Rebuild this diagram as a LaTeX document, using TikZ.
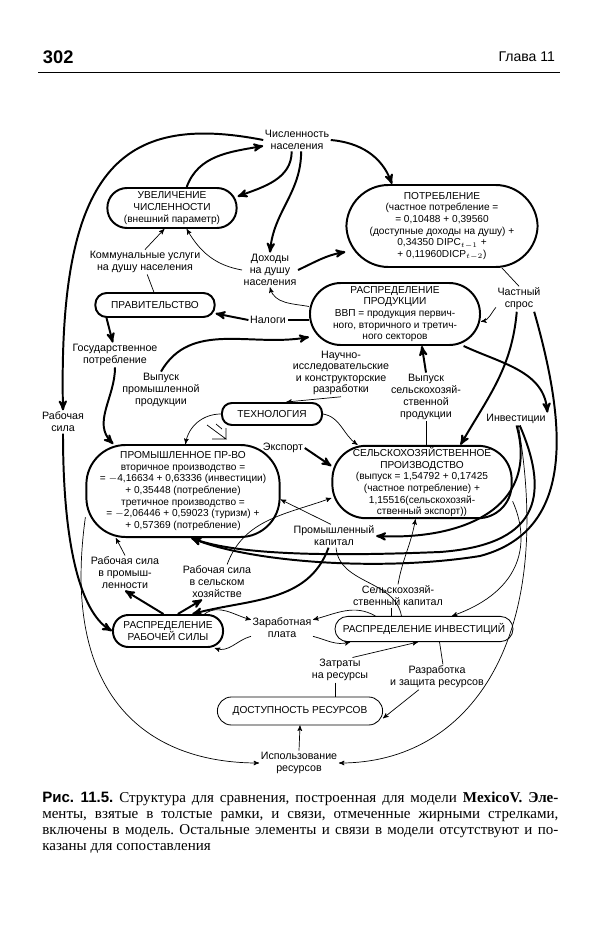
\documentclass[tikz,border=0pt]{standalone}
\usepackage{fontspec}
\setmainfont{Liberation Serif}
\setsansfont{Liberation Sans}
\usepackage{tikz}
\usetikzlibrary{arrows,positioning,calc}

\begin{document}
\frenchspacing
\begin{tikzpicture}[x=0.025cm, y=0.025cm, >=stealth', font=\sffamily\fontsize{7.6}{8.5}\selectfont,
  box/.style={draw, line width=1.4pt, rounded corners=#1, align=center, inner sep=1pt, font=\sffamily\fontsize{7.2}{8.3}\selectfont},
  box/.default=10pt,
  tbox/.style={box=#1, line width=0.6pt},
  lbl/.style={align=center, inner sep=1pt},
  model/.style={->, line width=1.4pt},
  aux/.style={->, line width=0.5pt},
  link/.style={-, line width=0.5pt}]
\useasboundingbox (0,0) rectangle (600,-932);

% header
\node[anchor=west, font=\sffamily\bfseries\fontsize{13}{14}\selectfont] (page) at (38,-57) {302};
\node[anchor=east, font=\sffamily\fontsize{10}{12}\selectfont] (chap) at (560,-57) {Глава 11};
\draw[line width=0.7pt] (page.west |- 0,-72) -- (chap.east |- 0,-72);

% nodes
\node[lbl] (pop) at (297,-140) {Численность\\населения};
\node[box=14pt, minimum width=3.23cm, minimum height=1cm] (grow) at (172,-208) {УВЕЛИЧЕНИЕ\\ЧИСЛЕННОСТИ\\(внешний параметр)};
\node[box=30pt, minimum width=4.78cm, minimum height=2.05cm] (cons) at (442,-226) {ПОТРЕБЛЕНИЕ\\(частное потребление =\\= 0,10488 + 0,39560\\(доступные доходы на душу) +\\0,34350 DIPC$_{t-1}$ +\\+ 0,11960DICP$_{t-2}$)};
\node[lbl] (comm) at (145,-262) {Коммунальные услуги\\на душу населения};
\node[lbl] (income) at (270,-270) {Доходы\\на душу\\населения};
\node[box=8pt, minimum width=2.98cm, minimum height=0.6cm] (gov) at (155,-305) {ПРАВИТЕЛЬСТВО};
\node[lbl] (taxes) at (268,-320) {Налоги};
\node[box=22pt, minimum width=4.25cm, minimum height=1.55cm] (distr) at (395,-314) {РАСПРЕДЕЛЕНИЕ\\ПРОДУКЦИИ\\ВВП = продукция первич-\\ного, вторичного и третич-\\ного секторов};
\node[lbl] (privdem) at (519,-299) {Частный\\спрос};
\node[lbl] (govcons) at (115,-355) {Государственное\\потребление};
\node[lbl, font=\sffamily\fontsize{7.6}{8.2}\selectfont] (rnd) at (341,-373) {Научно-\\исследовательские\\и конструкторские\\разработки};
\node[lbl] (indout) at (161,-390) {Выпуск\\промышленной\\продукции};
\node[lbl] (agout) at (426,-397) {Выпуск\\сельскохозяй-\\ственной\\продукции};
\node[lbl] (labour) at (63,-422) {Рабочая\\сила};
\node[box=7pt, minimum width=2.5cm, minimum height=0.55cm] (tech) at (272,-414) {ТЕХНОЛОГИЯ};
\node[lbl] (invest) at (516,-419) {Инвестиции};
\node[lbl] (export) at (283,-448) {Экспорт};
\node[box=28pt, minimum width=4.83cm, minimum height=2.3cm] (ind) at (183,-491) {ПРОМЫШЛЕННОЕ ПР-ВО\\вторичное производство =\\= $-$4,16634 + 0,63336 (инвестиции)\\+ 0,35448 (потребление)\\третичное производство =\\= $-$2,06446 + 0,59023 (туризм) +\\+ 0,57369 (потребление)};
\node[box=24pt, minimum width=4.48cm, minimum height=1.7cm] (agr) at (422,-482) {СЕЛЬСКОХОЗЯЙСТВЕННОЕ\\ПРОИЗВОДСТВО\\(выпуск = 1,54792 + 0,17425\\(частное потребление) +\\1,15516(сельскохозяй-\\ственный экспорт))};
\node[lbl] (indcap) at (334,-536) {Промышленный\\капитал};
\node[lbl] (lind) at (125,-573) {Рабочая сила\\в промыш-\\ленности};
\node[lbl] (lagr) at (217,-582) {Рабочая сила\\в сельском\\хозяйстве};
\node[lbl] (agcap) at (398,-596) {Сельскохозяй-\\ственный капитал};
\node[box=11pt, minimum width=2.75cm, minimum height=0.8cm] (ldistr) at (168,-631) {РАСПРЕДЕЛЕНИЕ\\РАБОЧЕЙ СИЛЫ};
\node[lbl] (wage) at (282,-628) {Заработная\\плата};
\node[tbox=9pt, minimum width=4.45cm, minimum height=0.63cm] (idistr) at (424,-629) {РАСПРЕДЕЛЕНИЕ ИНВЕСТИЦИЙ};
\node[lbl] (costs) at (340,-670) {Затраты\\на ресурсы};
\node[lbl] (develop) at (437,-677) {Разработка\\и защита ресурсов};
\node[tbox=10pt, minimum width=4.13cm, minimum height=0.7cm] (avail) at (300,-711) {ДОСТУПНОСТЬ РЕСУРСОВ};
\node[lbl] (use) at (299,-763) {Использование\\ресурсов};

% links in the model
\draw[model] (pop.west) .. controls (120,-112) and (58,-170) .. (labour.north);
\draw[model] (labour.south) .. controls (63,-560) and (85,-615) .. (ldistr.west);
\draw[model] (pop.-115) to[out=-90,in=20] (grow.10);
\draw[model] (grow.55) to[out=70,in=190] (pop.190);
\draw[model] (pop.-70) to[out=-90,in=85] (income.north);
\draw[model] (pop.east) to[out=-5,in=110] (cons.140);
\draw[model] (income.east) to[out=25,in=190] (cons.195);
\draw[link, line width=1.4pt] (distr.west |- taxes) -- (taxes.east);
\draw[model] (taxes.west) -- (gov.-8);
\draw[model] (gov.-165) -- (govcons.100);
\draw[model] (govcons.south) to[out=-90,in=135] (ind.146);
\draw[model] (indout.north) to[out=60,in=190] (distr.195);
\draw[model] (privdem.-100) to[out=-95,in=60] (agr.44);
\draw[model] (distr.-25) to[out=-25,in=95] (invest.north east);
\draw[model] (agout.north) -- (distr.-50);
\draw[model] (export.east) -- (agr.170);
\draw[model] (privdem.-40) .. controls (565,-420) and (578,-530) .. (480,-556) .. controls (380,-572) and (250,-562) .. (ind.-80);
\draw[model] (invest.-60) .. controls (552,-500) and (535,-545) .. (440,-552) .. controls (340,-556) and (240,-556) .. (ind.-80);
\draw[model] (invest.-85) .. controls (540,-510) and (460,-540) .. (indcap.east);
\draw[model] (ldistr.105) -- (lind.south);
\draw[model] (ldistr.60) -- (lagr.-130);
\draw[model] (indcap.-115) to[out=-110,in=15] (ldistr.35);

% other links
\draw[aux] (income.west) to[out=170,in=-60] (grow.-55);
\draw[link] (gov.95) -- (comm.-80);
\draw[aux] (comm.north) -- (grow.-110);
\draw[aux] (distr.175) to[out=170,in=-75] (income.south);
\draw[link] (privdem.north) -- (cons.-35);
\draw[aux] (privdem.-160) to[out=-130,in=10] (distr.-5);
\draw[link] (agout.south) -- (agout.south |- agr.north);
\draw[aux] (rnd.south) -- (tech.40);
\draw[aux] (tech.west) to[out=180,in=80] (ind.87);
\draw[aux] (tech.east) to[out=-10,in=145] (agr.150);
\draw[line width=0.5pt] (207,-425) -- (226,-439) -- (212,-439) (226,-439) -- (226,-428) (216,-424) -- (222,-429);
\draw[aux] (lind.north) -- (ind.-145);
\draw[aux] (lagr.60) to[out=70,in=200] (agr.190);
\draw[aux] (indcap.105) -- (ind.-5);
\draw[link] (indcap.-80) to[out=-85,in=100] (idistr.150);
\draw[link] (agcap.-120) -- (agcap.-120 |- idistr.north);
\draw[aux] (agcap.north) to[out=80,in=-100] (agr.-100);
\draw[aux] (ldistr.25) to[out=35,in=165] (wage.165);
\draw[aux] (idistr.165) to[out=150,in=15] (wage.15);
\draw[aux] (wage.-165) to[out=-165,in=-20] (ldistr.-20);
\draw[aux] (wage.-15) to[out=-15,in=195] (idistr.-170);
\draw[link] (costs.-110) -- (costs.-110 |- avail.north);
\draw[aux] (costs.45) -- (idistr.-115);
\draw[link] (idistr.-40) -- (develop.65);
\draw[aux] (develop.-145) -- (avail.-5);
\draw[aux] (use.north) -- (avail.south);
\draw[aux] (ind.195) .. controls (60,-700) and (150,-763) .. (use.west);
\draw[aux] (invest.-70) .. controls (555,-640) and (470,-763) .. (use.east);
\draw[aux] (agr.-12) .. controls (530,-540) and (525,-590) .. (idistr.25);

% caption
\node[anchor=north west, inner sep=0, text width=12.9cm, align=justify, font=\rmfamily\fontsize{10.7}{11.4}\selectfont] (caption) at (42,-792)
  {\textsf{\bfseries Рис.~11.5.} Структура для сравнения, построенная для модели \textbf{MexicoV. Эле-}\linebreak
   менты, взятые в толстые рамки, и связи, отмеченные жирными стрелками,\linebreak
   включены в модель. Остальные элементы и связи в модели отсутствуют и по-\linebreak
   казаны для сопоставления};
\end{tikzpicture}
\end{document}
